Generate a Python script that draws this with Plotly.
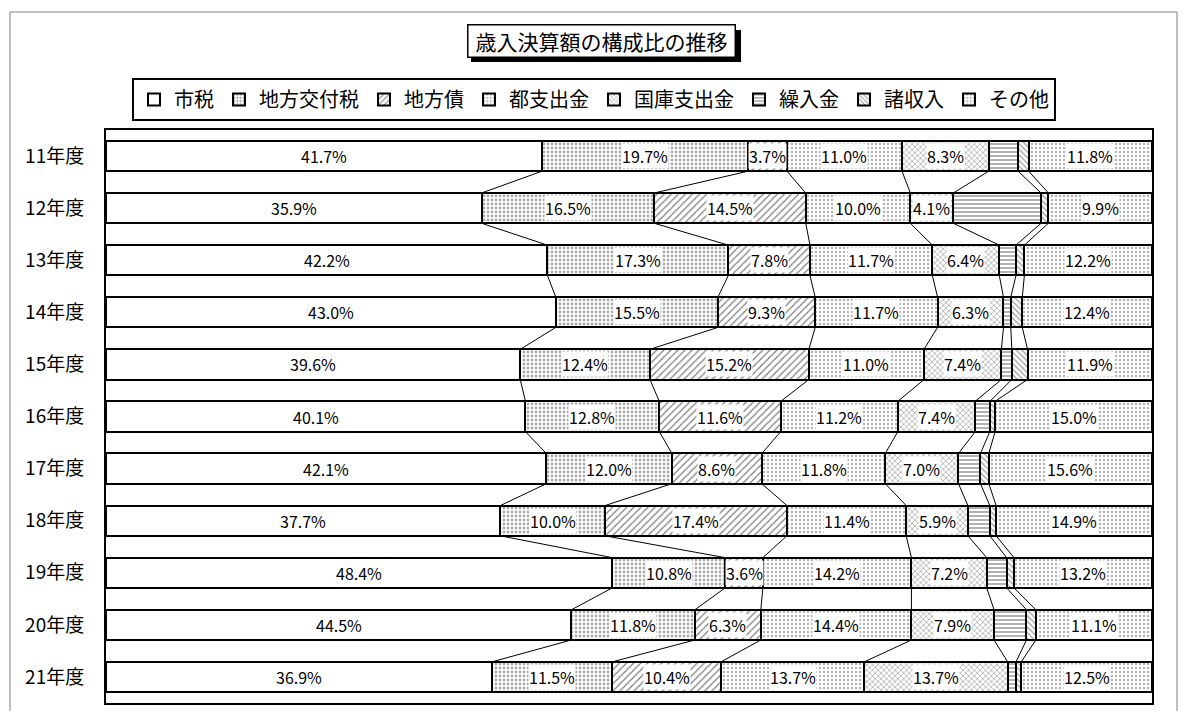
import plotly.graph_objects as go

years = ["11年度", "12年度", "13年度", "14年度", "15年度", "16年度",
         "17年度", "18年度", "19年度", "20年度", "21年度"]
series_names = ["市税", "地方交付税", "地方債", "都支出金", "国庫支出金", "繰入金", "諸収入", "その他"]

shizei = [41.7, 35.9, 42.2, 43.0, 39.6, 40.1, 42.1, 37.7, 48.4, 44.5, 36.9]
kofuzei = [19.7, 16.5, 17.3, 15.5, 12.4, 12.8, 12.0, 10.0, 10.8, 11.8, 11.5]
chihousai = [3.7, 14.5, 7.8, 9.3, 15.2, 11.6, 8.6, 17.4, 3.6, 6.3, 10.4]
toshishutsu = [11.0, 10.0, 11.7, 11.7, 11.0, 11.2, 11.8, 11.4, 14.2, 14.4, 13.7]
kokko = [8.3, 4.1, 6.4, 6.3, 7.4, 7.4, 7.0, 5.9, 7.2, 7.9, 13.7]
kurire = [2.8, 8.4, 1.6, 0.7, 1.0, 1.4, 2.1, 2.1, 1.9, 3.1, 0.8]
shoshu = [1.0, 0.7, 0.8, 1.1, 1.5, 0.5, 0.8, 0.6, 0.7, 0.9, 0.5]
sonota = [11.8, 9.9, 12.2, 12.4, 11.9, 15.0, 15.6, 14.9, 13.2, 11.1, 12.5]

values = [shizei, kofuzei, chihousai, toshishutsu, kokko, kurire, shoshu, sonota]
labeled = [True, True, True, True, True, False, False, True]

patterns = [
    dict(shape=""),
    dict(shape=".", size=4, solidity=0.38, fgcolor="#555555", bgcolor="white"),
    dict(shape="/", size=5, solidity=0.25, fgcolor="black", bgcolor="white"),
    dict(shape=".", size=4, solidity=0.3, fgcolor="#666666", bgcolor="white"),
    dict(shape="x", size=4, solidity=0.3, fgcolor="#333333", bgcolor="white"),
    dict(shape="-", size=4, solidity=0.3, fgcolor="black", bgcolor="white"),
    dict(shape="\\", size=4, solidity=0.3, fgcolor="#333333", bgcolor="white"),
    dict(shape=".", size=4, solidity=0.3, fgcolor="#666666", bgcolor="white"),
]

FONT = "Noto Sans CJK JP"
W, H = 1188, 711
L, R, T, B = 106, 1152, 130, 703
BAR_W = 0.58
n = len(years)
ypos = list(range(n))


def px(xp):
    return (xp - L) / (R - L)


def py(yp):
    return (B - yp) / (B - T)


fig = go.Figure()

totals = [sum(v[i] for v in values) for i in range(n)]
norm = [[v[i] / totals[i] * 100 for i in range(n)] for v in values]
cum = []
run = [0.0] * n
for s in norm:
    run = [run[i] + s[i] for i in range(n)]
    cum.append(run[:])

for k, name in enumerate(series_names):
    fig.add_trace(go.Bar(
        y=ypos, x=norm[k], name=name, orientation="h", width=BAR_W,
        marker=dict(color="white", line=dict(color="black", width=2), pattern=patterns[k]),
        hoverinfo="skip",
    ))

# series lines
lx, ly = [], []
for k in range(len(series_names) - 1):
    for i in range(n - 1):
        lx += [cum[k][i], cum[k][i + 1], None]
        ly += [i + BAR_W / 2, i + 1 - BAR_W / 2, None]
fig.add_trace(go.Scatter(x=lx, y=ly, mode="lines", line=dict(color="black", width=1),
                         showlegend=False, hoverinfo="skip"))

annotations = []
for k in range(len(series_names)):
    if not labeled[k]:
        continue
    for i in range(n):
        start = cum[k][i] - norm[k][i]
        annotations.append(dict(
            x=start + norm[k][i] / 2, y=i, xref="x", yref="y",
            text=f"{values[k][i]:.1f}%", showarrow=False,
            font=dict(family=FONT, size=16, color="black"),
            bgcolor="white", borderpad=0,
        ))

annotations.append(dict(
    x=px(601), y=py(40.5), xref="paper", yref="paper",
    text="歳入決算額の構成比の推移", showarrow=False,
    font=dict(family=FONT, size=21, color="black"),
    bgcolor="white", bordercolor="black", borderwidth=1.5, borderpad=0,
    width=266, height=31, xanchor="center", yanchor="middle",
))

shapes = [
    dict(type="rect", xref="paper", yref="paper", x0=px(10), x1=px(1177), y0=py(722), y1=py(12),
         line=dict(color="#808080", width=1), fillcolor="rgba(0,0,0,0)", layer="below"),
    dict(type="rect", xref="paper", yref="paper", x0=px(471), x1=px(741), y0=py(62), y1=py(30),
         line=dict(width=0), fillcolor="black"),
]

fig.update_layout(
    width=W, height=H,
    margin=dict(l=L, r=W - R, t=T, b=H - B, pad=0),
    paper_bgcolor="white", plot_bgcolor="white",
    barmode="stack", bargap=0.42,
    font=dict(family=FONT, color="black"),
    showlegend=True,
    legend=dict(
        orientation="h", x=px(594), xanchor="center", y=py(99.5), yanchor="middle",
        bgcolor="white", bordercolor="black", borderwidth=2,
        font=dict(family=FONT, size=20, color="black"), itemwidth=30,
        traceorder="normal",
    ),
    xaxis=dict(range=[0, 100], showticklabels=False, showgrid=False, zeroline=False,
               showline=True, mirror=True, linecolor="black", linewidth=2, ticks=""),
    yaxis=dict(range=[n - 0.5, -0.5], tickvals=ypos, ticktext=years, showgrid=False,
               zeroline=False, showline=True, mirror=True, linecolor="black", linewidth=2,
               ticks="", ticklabelstandoff=16,
               tickfont=dict(family=FONT, size=19, color="black")),
    annotations=annotations,
    shapes=shapes,
)

fig.write_html("out.html", config={"displayModeBar": False},
               post_script="document.body.style.margin='0';document.body.style.overflow='hidden';")
